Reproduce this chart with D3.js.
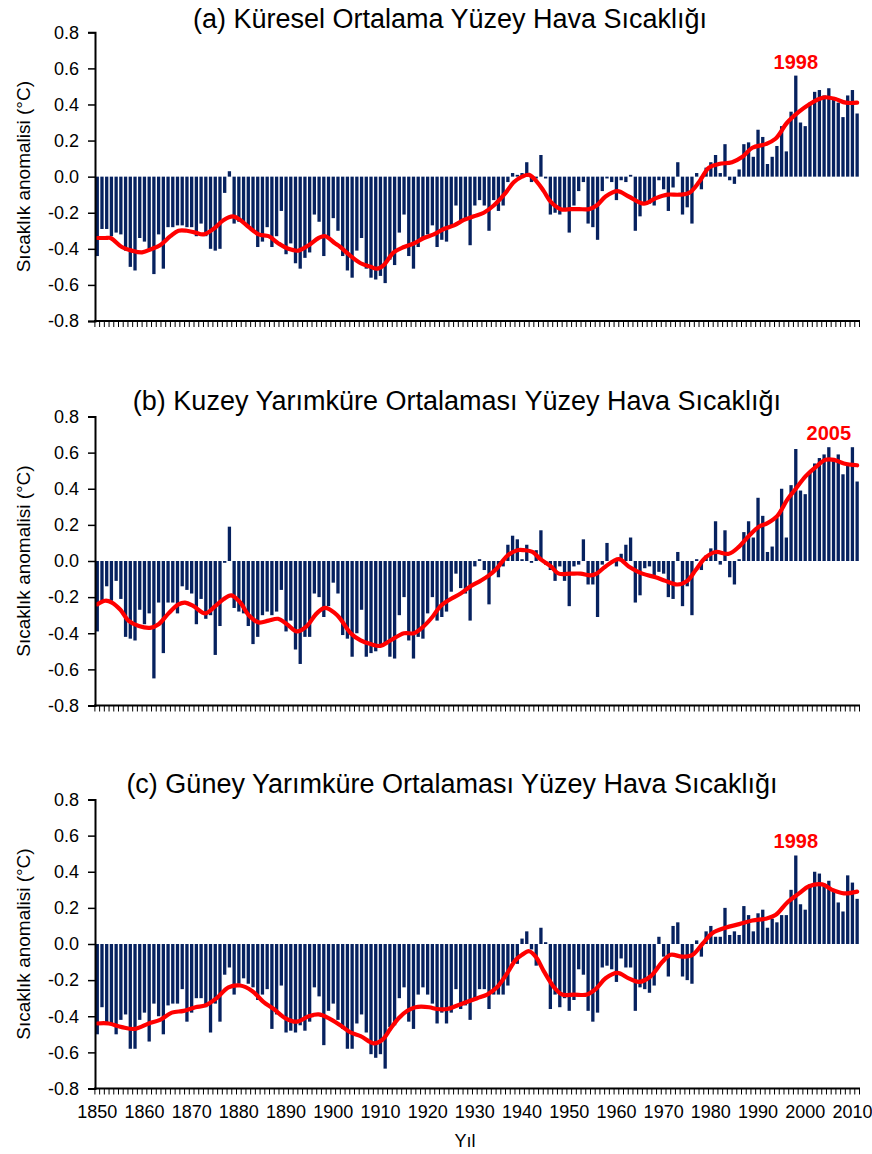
<!DOCTYPE html>
<html>
<head>
<meta charset="utf-8">
<script src="https://cdn.jsdelivr.net/npm/d3@7"></script>
<style>
  body { margin: 0; background: #fff; }
  text { font-family: "Liberation Sans", Arial, sans-serif; }
</style>
</head>
<body>
<svg id="chart" width="872" height="1154"></svg>
<script>
// yearly bars, 1850-2011
var years = d3.range(1850, 2012);

var globalAnom = [
  -0.44,-0.29,-0.29,-0.33,-0.31,-0.32,-0.41,-0.50,-0.52,-0.34,
  -0.36,-0.40,-0.54,-0.32,-0.51,-0.28,-0.28,-0.27,-0.27,-0.28,
  -0.28,-0.33,-0.26,-0.33,-0.40,-0.41,-0.40,-0.09,0.03,-0.26,
  -0.25,-0.25,-0.28,-0.30,-0.39,-0.36,-0.28,-0.39,-0.33,-0.19,
  -0.43,-0.37,-0.48,-0.51,-0.45,-0.42,-0.21,-0.25,-0.44,-0.34,
  -0.23,-0.30,-0.44,-0.52,-0.56,-0.41,-0.34,-0.51,-0.56,-0.57,
  -0.55,-0.59,-0.46,-0.49,-0.31,-0.21,-0.44,-0.51,-0.39,-0.34,
  -0.32,-0.27,-0.39,-0.35,-0.36,-0.28,-0.16,-0.25,-0.23,-0.38,
  -0.16,-0.13,-0.16,-0.30,-0.13,-0.19,-0.16,-0.03,0.02,0.01,
  0.02,0.08,-0.03,-0.01,0.12,-0.01,-0.21,-0.20,-0.21,-0.18,
  -0.31,-0.16,-0.08,-0.03,-0.26,-0.28,-0.35,-0.08,-0.01,-0.03,
  -0.13,-0.02,-0.03,0.01,-0.30,-0.22,-0.15,-0.15,-0.16,-0.02,
  -0.07,-0.19,-0.06,0.08,-0.21,-0.17,-0.26,0.02,-0.07,0.05,
  0.08,0.12,0.02,0.18,-0.02,-0.04,0.04,0.18,0.19,0.11,
  0.26,0.22,0.07,0.11,0.17,0.28,0.14,0.36,0.56,0.30,
  0.28,0.41,0.47,0.48,0.45,0.49,0.43,0.41,0.33,0.45,
  0.48,0.35
];

var northAnom = [
  -0.39,-0.23,-0.14,-0.22,-0.11,-0.21,-0.42,-0.43,-0.44,-0.27,
  -0.35,-0.29,-0.65,-0.23,-0.51,-0.23,-0.23,-0.29,-0.14,-0.16,
  -0.18,-0.35,-0.21,-0.32,-0.30,-0.52,-0.36,-0.01,0.19,-0.26,
  -0.28,-0.29,-0.36,-0.46,-0.42,-0.30,-0.28,-0.30,-0.28,-0.16,
  -0.39,-0.33,-0.49,-0.57,-0.42,-0.42,-0.18,-0.20,-0.31,-0.25,
  -0.12,-0.18,-0.41,-0.43,-0.53,-0.40,-0.27,-0.53,-0.51,-0.50,
  -0.47,-0.46,-0.53,-0.54,-0.30,-0.20,-0.44,-0.54,-0.42,-0.43,
  -0.29,-0.20,-0.33,-0.31,-0.28,-0.17,-0.07,-0.15,-0.18,-0.33,
  -0.03,0.01,-0.05,-0.24,-0.05,-0.09,-0.03,0.09,0.14,0.12,
  0.01,0.09,-0.01,0.06,0.17,-0.02,-0.05,-0.11,-0.03,-0.11,
  -0.25,-0.03,-0.02,0.12,-0.13,-0.13,-0.31,-0.02,0.10,0.00,
  -0.03,0.04,0.09,0.13,-0.23,-0.19,-0.04,-0.03,-0.08,-0.06,
  -0.07,-0.20,-0.21,0.05,-0.25,-0.14,-0.30,0.01,-0.05,0.03,
  0.07,0.22,-0.02,0.17,-0.09,-0.13,0.01,0.16,0.22,0.13,
  0.35,0.25,0.05,0.08,0.24,0.40,0.13,0.42,0.62,0.39,
  0.37,0.49,0.54,0.57,0.59,0.63,0.56,0.59,0.48,0.53,
  0.63,0.44
];

var southAnom = [
  -0.50,-0.35,-0.44,-0.44,-0.50,-0.42,-0.39,-0.58,-0.58,-0.42,
  -0.38,-0.54,-0.33,-0.40,-0.50,-0.34,-0.33,-0.33,-0.25,-0.43,
  -0.38,-0.30,-0.30,-0.35,-0.49,-0.33,-0.43,-0.17,-0.13,-0.28,
  -0.22,-0.19,-0.22,-0.24,-0.31,-0.28,-0.25,-0.47,-0.39,-0.23,
  -0.49,-0.48,-0.49,-0.45,-0.48,-0.43,-0.24,-0.29,-0.56,-0.37,
  -0.33,-0.42,-0.47,-0.58,-0.58,-0.44,-0.39,-0.49,-0.61,-0.63,
  -0.61,-0.69,-0.46,-0.45,-0.30,-0.24,-0.43,-0.47,-0.28,-0.24,
  -0.28,-0.33,-0.44,-0.38,-0.44,-0.38,-0.25,-0.36,-0.34,-0.42,
  -0.30,-0.25,-0.25,-0.36,-0.28,-0.28,-0.28,-0.23,-0.10,-0.11,
  0.03,0.07,-0.03,-0.12,0.09,0.01,-0.36,-0.28,-0.35,-0.30,
  -0.37,-0.31,-0.14,-0.17,-0.37,-0.43,-0.38,-0.13,-0.12,-0.14,
  -0.21,-0.08,-0.13,-0.13,-0.37,-0.24,-0.25,-0.27,-0.23,0.04,
  -0.07,-0.18,0.10,0.12,-0.18,-0.20,-0.22,0.02,-0.07,0.07,
  0.10,0.04,0.04,0.20,0.05,0.07,0.05,0.21,0.16,0.07,
  0.17,0.19,0.09,0.14,0.12,0.16,0.16,0.30,0.49,0.22,
  0.19,0.33,0.40,0.39,0.32,0.35,0.29,0.23,0.18,0.38,
  0.34,0.25
];

// smoothed curves
var smoothYearsA = [1850,1851.7,1852.8,1855.2,1857.3,1859.5,1861.6,1863.3,1865.5,1867.2,
  1869.0,1870.8,1872.5,1874.6,1876.8,1878.7,1880.3,1882.1,1884.2,1886.3,
  1888.4,1890.5,1892.6,1894.8,1896.9,1898.3,1900.4,1901.5,1903.7,1905.8,
  1907.9,1909.3,1910.7,1912.8,1915.0,1917.1,1919.2,1921.3,1923.4,1925.6,
  1927.7,1929.8,1931.9,1934.0,1936.2,1938.3,1940.0,1941.5,1943.2,1944.6,
  1946.1,1948.2,1950.3,1952.1,1954.2,1955.8,1957.7,1960.2,1962.6,1965.8,
  1968.3,1970.8,1973.3,1975.4,1977.5,1979.6,1981.7,1984.5,1986.7,1988.8,
  1991.6,1993.7,1996.2,1998.7,2000.8,2002.9,2004.3,2006.4,2008.6,2011];
var smoothA = [-0.34,-0.34,-0.34,-0.39,-0.41,-0.42,-0.40,-0.38,-0.33,-0.30,
  -0.30,-0.31,-0.32,-0.29,-0.24,-0.22,-0.24,-0.28,-0.32,-0.33,
  -0.37,-0.40,-0.41,-0.38,-0.34,-0.33,-0.37,-0.39,-0.44,-0.48,
  -0.50,-0.51,-0.49,-0.42,-0.39,-0.37,-0.34,-0.32,-0.29,-0.27,
  -0.24,-0.22,-0.20,-0.16,-0.10,-0.03,0.00,0.01,-0.03,-0.08,
  -0.14,-0.18,-0.18,-0.18,-0.18,-0.16,-0.11,-0.08,-0.11,-0.15,
  -0.12,-0.10,-0.10,-0.09,-0.03,0.05,0.07,0.08,0.11,0.16,
  0.18,0.21,0.30,0.36,0.40,0.43,0.44,0.43,0.41,0.41];

var smoothYearsB = [1850,1851.7,1853.1,1854.9,1856.6,1858.8,1861.2,1863.0,1865.1,1867.2,
  1868.6,1870.4,1872.9,1875.0,1876.8,1878.4,1880.3,1882.1,1884.2,1886.3,
  1888.3,1890.2,1892.3,1894.4,1896.5,1898.3,1900.4,1901.5,1903.7,1905.8,
  1907.9,1910.0,1912.1,1915.0,1917.1,1918.8,1921.0,1922.7,1924.9,1927.0,
  1929.1,1931.2,1933.0,1934.7,1936.9,1939.0,1940.4,1942.2,1943.9,1946.1,
  1947.8,1950.3,1952.4,1954.5,1955.8,1957.7,1960.5,1962.6,1965.5,1968.3,
  1970.4,1972.9,1975.0,1976.8,1978.9,1981.0,1983.8,1986.0,1988.1,1990.2,
  1992.0,1994.1,1996.2,1998.0,2000.1,2002.2,2004.3,2006.1,2008.2,2011];
var smoothB = [-0.24,-0.22,-0.23,-0.27,-0.33,-0.36,-0.37,-0.35,-0.29,-0.24,
  -0.23,-0.25,-0.29,-0.25,-0.21,-0.19,-0.23,-0.30,-0.34,-0.33,
  -0.32,-0.35,-0.39,-0.36,-0.29,-0.26,-0.29,-0.32,-0.40,-0.44,
  -0.46,-0.47,-0.44,-0.40,-0.40,-0.37,-0.31,-0.25,-0.21,-0.18,
  -0.14,-0.11,-0.08,-0.04,0.03,0.06,0.06,0.05,0.01,-0.03,
  -0.07,-0.07,-0.07,-0.08,-0.07,-0.03,0.01,-0.03,-0.07,-0.09,
  -0.11,-0.13,-0.11,-0.05,0.02,0.05,0.04,0.08,0.14,0.19,
  0.21,0.25,0.34,0.40,0.47,0.52,0.56,0.56,0.54,0.53];

var smoothYearsC = [1850,1852.4,1855.2,1858.0,1860.9,1863.3,1865.8,1868.3,1870.8,1872.9,
  1875.3,1877.8,1880.3,1882.8,1885.2,1887.4,1889.8,1892.3,1894.8,1896.9,
  1899.0,1901.5,1903.7,1905.8,1908.6,1910.4,1912.1,1913.9,1915.7,1917.4,
  1920.3,1922.0,1924.1,1926.3,1928.4,1930.5,1932.6,1934.7,1936.9,1938.6,
  1940.0,1941.5,1942.9,1944.6,1946.8,1948.5,1951.0,1953.8,1955.6,1957.7,
  1960.2,1962.6,1964.8,1967.2,1969.7,1971.5,1973.9,1976.1,1978.2,1980.3,
  1983.1,1986.0,1988.8,1991.6,1993.7,1996.2,1998.7,2000.8,2003.6,2005.7,
  2008.2,2011];
var smoothC = [-0.44,-0.44,-0.46,-0.47,-0.44,-0.42,-0.38,-0.37,-0.35,-0.34,
  -0.30,-0.24,-0.23,-0.26,-0.32,-0.36,-0.41,-0.43,-0.40,-0.39,
  -0.41,-0.45,-0.49,-0.51,-0.55,-0.53,-0.47,-0.41,-0.37,-0.35,
  -0.35,-0.36,-0.36,-0.34,-0.32,-0.30,-0.28,-0.24,-0.16,-0.09,
  -0.06,-0.04,-0.07,-0.15,-0.24,-0.28,-0.28,-0.28,-0.25,-0.19,
  -0.16,-0.19,-0.21,-0.18,-0.10,-0.06,-0.07,-0.06,0.00,0.06,
  0.09,0.11,0.13,0.14,0.16,0.23,0.28,0.32,0.33,0.30,
  0.28,0.29];

var panelTitles = [
  "(a) Küresel Ortalama Yüzey Hava Sıcaklığı",
  "(b) Kuzey Yarımküre Ortalaması Yüzey Hava Sıcaklığı",
  "(c) Güney Yarımküre Ortalaması Yüzey Hava Sıcaklığı"
];
var peakYears = [1998, 2005, 1998];
var decadeLabels = [1850,1860,1870,1880,1890,1900,1910,1920,1930,1940,1950,1960,1970,1980,1990,2000,2010];
var yTicks = [-0.8,-0.6,-0.4,-0.2,0,0.2,0.4,0.6,0.8];
var yLabel = "Sıcaklık anomalisi (°C)";
var xLabel = "Yıl";

var barColor = "#06215f";
var lineColor = "#ff0000";

var svg = d3.select("#chart");

var x = d3.scaleBand().domain(years).range([94.9, 859.5])
  .paddingInner(0.3).paddingOuter(0.15);
var bw = x.bandwidth();
var xl = d3.scaleLinear().domain([1850, 2011])
  .range([x(1850) + bw / 2, x(2011) + bw / 2]);

var panels = [
  { data: globalAnom, sy: smoothYearsA, sv: smoothA, top: 32.3, bottom: 321, titleX: 450, titleY: 28 },
  { data: northAnom, sy: smoothYearsB, sv: smoothB, top: 416.5, bottom: 705.5, titleX: 457, titleY: 410 },
  { data: southAnom, sy: smoothYearsC, sv: smoothC, top: 799.5, bottom: 1088.5, titleX: 452, titleY: 793 }
];

panels.forEach(function(p, pi) {
  var y = d3.scaleLinear().domain([-0.8, 0.8]).range([p.bottom, p.top]);
  var g = svg.append("g");

  g.append("text")
    .attr("x", p.titleX).attr("y", p.titleY)
    .attr("text-anchor", "middle")
    .style("font-size", "27px")
    .text(panelTitles[pi]);

  // bars
  g.append("g").selectAll("rect")
    .data(years)
    .join("rect")
    .attr("x", function(d) { return x(d); })
    .attr("width", bw)
    .attr("y", function(d, i) { return y(Math.max(0, p.data[i])); })
    .attr("height", function(d, i) { return Math.abs(y(p.data[i]) - y(0)); })
    .attr("fill", barColor);

  // smoothed line
  var pts = p.sy.map(function(yr, i) { return [yr, p.sv[i]]; });
  g.append("path")
    .datum(pts)
    .attr("fill", "none")
    .attr("stroke", lineColor)
    .attr("stroke-width", 4.2)
    .attr("stroke-linejoin", "round")
    .attr("stroke-linecap", "round")
    .attr("d", d3.line()
      .x(function(d) { return xl(d[0]); })
      .y(function(d) { return y(d[1]); })
      .curve(d3.curveCatmullRom.alpha(0.5)));

  // peak label
  var pk = peakYears[pi];
  g.append("text")
    .attr("x", x(pk) + bw / 2)
    .attr("y", y(p.data[years.indexOf(pk)]) - 7)
    .attr("text-anchor", "middle")
    .attr("fill", lineColor)
    .style("font-size", "20px")
    .style("font-weight", "bold")
    .text(pk);

  // y axis
  var ya = g.append("g")
    .attr("transform", "translate(95,0)")
    .call(d3.axisLeft(y).tickValues(yTicks).tickSizeOuter(0).tickSize(7).tickPadding(9)
      .tickFormat(function(d) { return d.toFixed(1); }));
  ya.select(".domain").attr("stroke", "#000").attr("stroke-width", 2);
  ya.selectAll(".tick line").attr("stroke", "#000").attr("stroke-width", 1.5);
  ya.selectAll(".tick text").style("font-size", "18px").attr("fill", "#000");

  g.append("text")
    .attr("transform", "translate(30," + ((p.top + p.bottom) / 2) + ") rotate(-90)")
    .attr("text-anchor", "middle")
    .style("font-size", "19px")
    .text(yLabel);

  // x axis line and category ticks
  var by = y(-0.8);
  g.append("line")
    .attr("x1", 94).attr("x2", 860)
    .attr("y1", by).attr("y2", by)
    .attr("stroke", "#000").attr("stroke-width", 2);
  var bounds = years.map(function(d) { return x(d) + bw / 2 - x.step() / 2; });
  bounds.push(x(2011) + bw / 2 + x.step() / 2);
  g.append("g").selectAll("line")
    .data(bounds)
    .join("line")
    .attr("x1", function(d) { return d; }).attr("x2", function(d) { return d; })
    .attr("y1", by).attr("y2", by + 6)
    .attr("stroke", "#000").attr("stroke-width", 1);

  if (pi === 2) {
    var xa = g.append("g")
      .attr("transform", "translate(0," + by + ")")
      .call(d3.axisBottom(x).tickValues(decadeLabels).tickSize(0).tickPadding(17));
    xa.select(".domain").remove();
    xa.selectAll("text").style("font-size", "18px").attr("fill", "#000");
  }
});

svg.append("text")
  .attr("x", 465).attr("y", 1147)
  .attr("text-anchor", "middle")
  .style("font-size", "18px")
  .text(xLabel);
</script>
</body>
</html>
